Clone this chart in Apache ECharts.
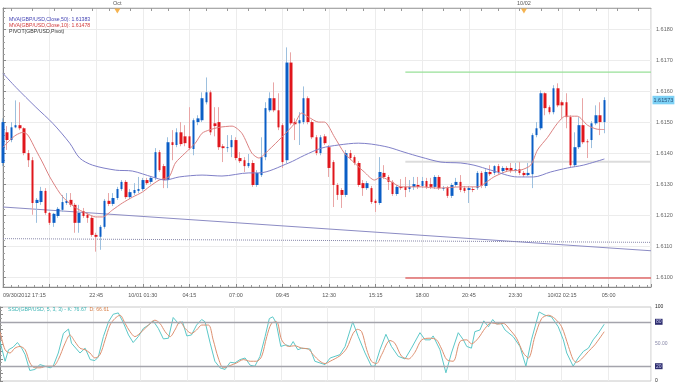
<!DOCTYPE html>
<html><head><meta charset="utf-8">
<script src="https://cdn.jsdelivr.net/npm/echarts@6/dist/echarts.min.js"></script>
<style>html,body{margin:0;padding:0;background:#fff}#c{width:680px;height:385px}</style>
</head><body><div id="c"></div>
<script>
// ---- data (15-minute candles, GBP/USD, starting 09/30/2012 17:15) ----
const openVals = [1.61370,1.61469,1.61444,1.61485,1.61492,1.61482,1.61402,1.61379,1.61241,1.61244,
1.61280,1.61209,1.61177,1.61199,1.61219,1.61241,1.61251,1.61235,1.61177,1.61215,
1.61203,1.61193,1.61138,1.61132,1.61164,1.61248,1.61238,1.61257,1.61286,1.61309,
1.61260,1.61273,1.61280,1.61286,1.61315,1.61309,1.61322,1.61405,1.61360,1.61315,
1.61437,1.61428,1.61469,1.61456,1.61456,1.61415,1.61502,1.61508,1.61566,1.61598,
1.61498,1.61502,1.61424,1.61418,1.61421,1.61444,1.61386,1.61379,1.61360,1.61370,
1.61299,1.61331,1.61389,1.61540,1.61579,1.61540,1.61492,1.61379,1.61694,1.61502,
1.61498,1.61502,1.61579,1.61502,1.61453,1.61402,1.61456,1.61421,1.61373,1.61299,
1.61283,1.61267,1.61402,1.61389,1.61370,1.61305,1.61289,1.61289,1.61248,1.61241,
1.61338,1.61325,1.61309,1.61270,1.61293,1.61293,1.61286,1.61293,1.61299,1.61296,
1.61312,1.61302,1.61293,1.61325,1.61286,1.61289,1.61264,1.61299,1.61309,1.61289,
1.61283,1.61286,1.61289,1.61338,1.61296,1.61341,1.61338,1.61360,1.61344,1.61354,
1.61354,1.61344,1.61350,1.61338,1.61331,1.61334,1.61460,1.61482,1.61595,1.61550,
1.61534,1.61611,1.61566,1.61566,1.61518,1.61363,1.61421,1.61492,1.61440,1.61444,
1.61498,1.61524,1.61502];
const closeVals = [1.61502,1.61444,1.61485,1.61492,1.61482,1.61402,1.61379,1.61241,1.61251,1.61280,
1.61209,1.61177,1.61206,1.61222,1.61244,1.61248,1.61235,1.61177,1.61209,1.61199,
1.61193,1.61138,1.61132,1.61164,1.61248,1.61238,1.61257,1.61286,1.61309,1.61260,
1.61276,1.61283,1.61286,1.61315,1.61305,1.61322,1.61405,1.61347,1.61315,1.61437,
1.61428,1.61469,1.61431,1.61434,1.61418,1.61508,1.61514,1.61579,1.61598,1.61469,
1.61489,1.61421,1.61418,1.61421,1.61444,1.61386,1.61376,1.61360,1.61370,1.61299,
1.61338,1.61389,1.61547,1.61579,1.61540,1.61485,1.61373,1.61694,1.61498,1.61495,
1.61508,1.61579,1.61502,1.61453,1.61402,1.61453,1.61434,1.61354,1.61299,1.61267,
1.61267,1.61402,1.61386,1.61370,1.61299,1.61289,1.61305,1.61244,1.61241,1.61341,
1.61325,1.61309,1.61270,1.61293,1.61289,1.61283,1.61293,1.61302,1.61293,1.61312,
1.61293,1.61293,1.61325,1.61289,1.61289,1.61264,1.61299,1.61309,1.61283,1.61280,
1.61289,1.61283,1.61338,1.61296,1.61341,1.61334,1.61360,1.61341,1.61354,1.61347,
1.61344,1.61350,1.61338,1.61331,1.61338,1.61460,1.61482,1.61595,1.61547,1.61534,
1.61611,1.61556,1.61556,1.61518,1.61363,1.61421,1.61492,1.61437,1.61437,1.61498,
1.61524,1.61502,1.61573];
const lowVals = [1.61360,1.61412,1.61437,1.61482,1.61476,1.61395,1.61357,1.61203,1.61177,1.61235,
1.61203,1.61170,1.61164,1.61193,1.61212,1.61235,1.61228,1.61145,1.61145,1.61193,
1.61177,1.61132,1.61084,1.61090,1.61158,1.61231,1.61231,1.61251,1.61280,1.61254,
1.61254,1.61267,1.61273,1.61280,1.61299,1.61302,1.61315,1.61341,1.61289,1.61289,
1.61379,1.61421,1.61424,1.61424,1.61412,1.61395,1.61492,1.61502,1.61559,1.61460,
1.61456,1.61412,1.61373,1.61405,1.61389,1.61379,1.61370,1.61341,1.61354,1.61293,
1.61293,1.61325,1.61379,1.61534,1.61534,1.61476,1.61354,1.61370,1.61492,1.61444,
1.61428,1.61495,1.61495,1.61447,1.61395,1.61395,1.61428,1.61325,1.61228,1.61251,
1.61225,1.61260,1.61379,1.61363,1.61293,1.61264,1.61283,1.61238,1.61212,1.61235,
1.61318,1.61283,1.61264,1.61264,1.61283,1.61260,1.61276,1.61283,1.61286,1.61289,
1.61286,1.61286,1.61286,1.61283,1.61280,1.61257,1.61257,1.61293,1.61276,1.61273,
1.61241,1.61276,1.61283,1.61289,1.61289,1.61328,1.61331,1.61334,1.61338,1.61341,
1.61338,1.61338,1.61331,1.61325,1.61328,1.61289,1.61453,1.61476,1.61524,1.61527,
1.61527,1.61550,1.61514,1.61482,1.61357,1.61357,1.61415,1.61431,1.61386,1.61418,
1.61492,1.61460,1.61466];
const highVals = [1.61514,1.61489,1.61502,1.61572,1.61566,1.61485,1.61412,1.61389,1.61257,1.61293,
1.61289,1.61212,1.61209,1.61228,1.61267,1.61273,1.61273,1.61241,1.61235,1.61225,
1.61209,1.61199,1.61145,1.61170,1.61254,1.61273,1.61273,1.61293,1.61315,1.61315,
1.61286,1.61305,1.61325,1.61322,1.61322,1.61328,1.61418,1.61412,1.61367,1.61453,
1.61476,1.61482,1.61502,1.61492,1.61550,1.61514,1.61524,1.61598,1.61646,1.61604,
1.61550,1.61550,1.61431,1.61460,1.61460,1.61453,1.61405,1.61389,1.61399,1.61379,
1.61347,1.61453,1.61566,1.61598,1.61630,1.61595,1.61498,1.61743,1.61727,1.61514,
1.61534,1.61617,1.61585,1.61508,1.61460,1.61460,1.61463,1.61428,1.61379,1.61305,
1.61289,1.61412,1.61412,1.61395,1.61376,1.61315,1.61312,1.61296,1.61254,1.61389,
1.61363,1.61331,1.61315,1.61299,1.61318,1.61325,1.61315,1.61325,1.61325,1.61325,
1.61322,1.61322,1.61331,1.61331,1.61296,1.61296,1.61305,1.61322,1.61331,1.61296,
1.61296,1.61293,1.61344,1.61344,1.61350,1.61363,1.61363,1.61367,1.61360,1.61360,
1.61370,1.61370,1.61373,1.61344,1.61370,1.61466,1.61502,1.61604,1.61598,1.61556,
1.61621,1.61627,1.61572,1.61595,1.61524,1.61469,1.61518,1.61579,1.61447,1.61505,
1.61556,1.61566,1.61582];

// moving averages: [slot, price]
const ma50Pts = [[0,1.61659],[3.06,1.61614],[7.76,1.61550],[11.75,1.61498],[15.75,1.61434],[18.1,1.61386],
[21.15,1.61363],[26.6,1.61347],[30.55,1.61344],[35.25,1.61325],[38.3,1.61315],[41.6,1.61325],[47.0,1.61331],
[51.7,1.61328],[58.05,1.61338],[60.4,1.61338],[67.45,1.61370],[71.2,1.61395],[75.2,1.61418],[79.2,1.61428],
[83.9,1.61434],[86.95,1.61431],[90.95,1.61421],[94.7,1.61405],[98.7,1.61389],[103.4,1.61373],[108.1,1.61370],
[111.2,1.61363],[115.2,1.61347],[121.5,1.61325],[125.3,1.61325],[129.3,1.61341],[133.3,1.61354],[137.0,1.61363],
[142,1.61383]];
const ma10Pts = [[0,1.61421],[1.65,1.61444],[3.06,1.61460],[4.7,1.61469],[5.88,1.61460],[7.76,1.61412],[9.4,1.61370],
[11.05,1.61325],[13.4,1.61273],[14.8,1.61251],[17.2,1.61225],[19.5,1.61209],[21.9,1.61196],[23.5,1.61196],
[25.9,1.61219],[28.2,1.61241],[30.6,1.61260],[32.9,1.61276],[34.5,1.61293],[36.9,1.61315],[39.2,1.61325],
[40.7,1.61370],[43.0,1.61402],[45.4,1.61434],[47.0,1.61466],[48.6,1.61476],[51.0,1.61485],[54.1,1.61489],
[56.4,1.61466],[58.75,1.61402],[60.4,1.61386],[62.75,1.61412],[65.8,1.61453],[68.9,1.61498],[70.5,1.61531],
[72.15,1.61518],[74.5,1.61502],[75.9,1.61502],[78.3,1.61453],[80.6,1.61402],[83.0,1.61370],[85.3,1.61341],
[87.7,1.61315],[89.3,1.61325],[91.7,1.61309],[94.0,1.61293],[98.7,1.61293],[102.7,1.61289],[108.1,1.61293],
[112.1,1.61293],[113.5,1.61302],[115.9,1.61325],[119.2,1.61344],[122.2,1.61347],[124.6,1.61363],[126.2,1.61412],
[128.6,1.61453],[130.9,1.61498],[132.8,1.61521],[135.6,1.61521],[138.0,1.61492],[140.3,1.61479],[142,1.61478]];
const trendPts = [[0,1.61228],[153,1.61087]];
const dottedPts = [[0,1.61126],[153,1.61114]];
const pivotFrom = 95, pivotTo = 153;
const pivotR1 = 1.61663, pivotPP = 1.61374, pivotS1 = 1.60999;

// stochastic %K / %D: [slot, value]
const kPts = [[0,53.3],[1.2,26.7],[2.0,42.2],[3.1,45.8],[4.1,52.0],[5.1,44.4],[5.9,35.6],[7.0,14.2],[8.2,15.6],[9.4,22.2],
[10.6,20.0],[11.8,17.8],[12.5,20.0],[13.7,37.8],[14.9,64.4],[16.1,70.2],[16.8,51.1],[18.8,37.8],[20.0,44.4],[21.2,28.9],
[22.3,27.6],[23.1,32.4],[24.3,60.0],[25.5,80.0],[26.6,90.2],[27.8,92.0],[29.0,78.7],[30.2,62.2],[31.3,52.0],[32.5,60.0],
[33.7,71.1],[34.9,75.6],[36.0,81.3],[37.2,71.1],[38.4,56.9],[39.6,57.8],[40.7,85.8],[41.9,77.8],[42.9,80.0],[43.9,60.9],
[45.0,62.2],[46.2,75.6],[47.4,83.1],[48.2,80.0],[49.4,51.1],[50.5,26.7],[51.7,17.8],[52.9,15.6],[54.1,25.3],[55.2,24.4],
[56.4,28.9],[57.6,31.1],[58.8,21.3],[59.9,20.0],[61.1,33.3],[62.3,60.0],[63.3,84.4],[64.1,86.7],[64.9,78.7],[66.0,46.7],
[67.2,48.9],[68.2,46.7],[68.9,53.3],[70.0,42.2],[70.9,44.4],[72.9,43.1],[74.0,26.7],[75.2,24.4],[76.4,22.2],[77.6,31.1],
[79.9,35.6],[81.1,46.7],[82.9,80.0],[84.2,60.0],[85.8,37.8],[87.3,20.0],[88.1,20.0],[89.3,42.2],[90.7,63.1],[92.0,46.7],
[93.6,33.3],[95.2,29.8],[96.7,44.4],[98.7,65.3],[99.9,55.6],[101.1,55.6],[101.8,60.9],[103.4,42.2],[104.8,11.1],[106.1,37.8],
[107.7,65.3],[108.9,55.6],[109.7,46.7],[110.8,44.4],[111.6,66.7],[112.8,68.9],[113.7,81.3],[114.8,73.3],[115.8,83.1],[116.7,76.9],
[117.7,78.7],[118.7,68.9],[120.6,60.0],[122.2,46.7],[123.6,20.0],[124.9,55.6],[126.7,93.3],[128.1,88.9],[129.6,86.7],[131.2,73.3],
[132.4,55.6],[133.2,37.8],[134.7,20.0],[135.9,31.1],[137.1,40.0],[138.3,44.4],[139.4,55.6],[140.6,64.4],[142,76.67]];
const dPts = [[0,66.7],[1.2,42.2],[2.35,37.8],[3.5,44.4],[4.7,46.7],[5.9,42.2],[7.05,24.4],[8.2,17.8],[9.4,17.8],[11.0,20.0],
[12.5,20.0],[13.7,28.9],[15.3,51.1],[16.45,62.2],[17.6,53.3],[18.8,44.4],[20.0,42.2],[21.15,37.8],[22.3,31.1],[23.5,35.6],
[24.7,55.6],[25.85,75.6],[27.0,84.4],[28.2,88.9],[29.4,77.8],[30.55,66.7],[31.7,60.0],[33.3,66.7],[34.9,75.6],[36.4,82.2],
[37.6,77.8],[38.8,66.7],[40.0,60.0],[41.1,68.9],[42.3,80.0],[43.5,71.1],[45.0,64.4],[46.2,68.9],[47.4,75.6],[49.0,75.6],
[50.1,55.6],[51.3,31.1],[52.5,17.8],[54.1,20.9],[55.6,24.4],[57.2,28.9],[58.8,26.7],[60.3,26.7],[61.5,33.3],[62.7,60.0],
[63.8,77.8],[65.0,80.0],[66.2,55.6],[67.8,46.7],[69.3,47.6],[70.9,44.4],[72.5,43.1],[73.6,35.6],[75.2,26.7],[76.4,23.6],
[77.6,26.7],[79.9,34.2],[81.5,44.4],[83.0,64.4],[84.0,69.8],[85.0,66.7],[86.2,42.2],[87.3,26.7],[88.5,23.6],[89.7,35.6],
[91.65,54.7],[92.8,51.1],[94.4,33.3],[96.0,29.8],[97.5,38.7],[99.1,55.6],[101.1,57.8],[102.6,55.6],[103.8,43.1],[105.0,28.9],
[106.5,26.7],[108.1,53.3],[109.7,55.6],[110.8,50.2],[112.4,57.8],[114.0,71.1],[115.5,78.7],[117.1,76.9],[118.3,77.8],[119.9,68.9],
[121.4,57.8],[123.0,37.8],[124.2,31.1],[125.7,60.0],[127.3,84.4],[128.9,88.9],[130.4,84.4],[132.0,73.3],[133.6,46.7],[134.7,28.9],
[135.5,25.3],[136.7,29.8],[138.3,40.0],[139.8,48.9],[142,66.61]];

// axis labels
const xTickLabels = ['09/30/2012 17:15','','22:45','10/01 01:30','04:15','07:00','09:45','12:30','15:15','18:00','20:45','23:30','10/02 02:15','05:00'];
const topMarks = [[27,'Oct'],[123,'10/02']];
const stochLevels = {100:'100', 80:'80', 50:'50.00', 20:'20', 0:'0'};

// ---- chart ----
const FONT = 'Liberation Sans';
const yMin = 1.6097, yMax = 1.6187, slotMax = 153;
const slots = Array.from({length: slotMax + 1}, (_, i) => String(i));
const candleData = openVals.map((o, i) => [i, o, closeVals[i], lowVals[i], highVals[i]]);
const bodyData = openVals.map((o, i) => [i, o, closeVals[i], Math.min(o, closeVals[i]), Math.max(o, closeVals[i])]);
const lastClose = closeVals[closeVals.length - 1];
const ma50Last = ma50Pts[ma50Pts.length - 1][1], ma10Last = ma10Pts[ma10Pts.length - 1][1];
const kLast = kPts[kPts.length - 1][1], dLast = dPts[dPts.length - 1][1];
const topIdx = topMarks.map(m => m[0]);

const chart = echarts.init(document.getElementById('c'), null, {renderer: 'canvas'});
chart.setOption({
  animation: false,
  backgroundColor: '#fff',
  textStyle: {fontFamily: FONT},
  title: [{
    left: 4, top: 12,
    text: '{a|MVA(GBP/USD,Close,50): ' + ma50Last.toFixed(5) + '}\n{b|MVA(GBP/USD,Close,10): ' + ma10Last.toFixed(5) + '}\n{c|PIVOT(GBP/USD,Pivot)}',
    textStyle: {fontSize: 5.2, fontWeight: 'normal', rich: {
      a: {color: '#4444b4', fontSize: 5.2, lineHeight: 5.8, fontFamily: FONT},
      b: {color: '#d23a3a', fontSize: 5.2, lineHeight: 5.8, fontFamily: FONT},
      c: {color: '#333', fontSize: 5.2, lineHeight: 5.8, fontFamily: FONT}
    }}
  }, {
    left: 3, top: 302,
    text: '{k|SSD(GBP/USD, 5, 3, 3) - K: ' + kLast.toFixed(2) + '}  {d|D: ' + dLast.toFixed(2) + '}',
    textStyle: {fontSize: 5.2, fontWeight: 'normal', rich: {
      k: {color: '#3cb4b4', fontSize: 5.2, fontFamily: FONT},
      d: {color: '#d8804a', fontSize: 5.2, fontFamily: FONT}
    }}
  }],
  grid: [
    {left: 0, right: 29, top: 8, height: 279, show: true, borderColor: '#c8c8c8', borderWidth: 1},
    {left: 0, right: 29, top: 307, height: 74, show: true, borderColor: '#c8c8c8', borderWidth: 1}
  ],
  xAxis: [{
    type: 'value', gridIndex: 0, min: 0, max: slotMax, interval: 11,
    axisLine: {lineStyle: {color: '#8a8a8a'}},
    axisTick: {show: true, inside: true, length: 3, lineStyle: {color: '#8a8a8a'}},
    minorTick: {show: true, splitNumber: 6, length: 2, lineStyle: {color: '#9a9a9a'}},
    splitLine: {show: true, lineStyle: {color: '#ececec'}},
    axisLabel: {fontSize: 5.5, color: '#555', margin: 5, alignMinLabel: 'left', showMaxLabel: false,
      formatter: v => { const k = v / 11; return Number.isInteger(k) && xTickLabels[k] ? xTickLabels[k] : ''; }}
  }, {
    type: 'category', gridIndex: 0, position: 'top', data: slots, boundaryGap: false,
    axisLine: {lineStyle: {color: '#aaa'}},
    axisTick: {show: true, inside: true, length: 3, lineStyle: {color: '#999'},
      interval: idx => { const k = Math.round((idx - 2.35) / 4.6); return Math.abs(2.35 + 4.6 * k - idx) < 0.5; }},
    splitLine: {show: false},
    axisLabel: {fontSize: 5.5, color: '#555', margin: 2, interval: idx => topIdx.includes(idx),
      formatter: (val, idx) => { const m = topMarks.find(t => t[0] === idx); return m ? m[1] : ''; }}
  }, {
    type: 'value', gridIndex: 1, min: 0, max: slotMax, interval: 11,
    axisLine: {show: false}, axisTick: {show: false}, axisLabel: {show: false},
    splitLine: {show: true, lineStyle: {color: '#ececec'}}
  }],
  yAxis: [{
    type: 'value', gridIndex: 0, position: 'right', min: yMin, max: yMax, splitNumber: 9,
    minInterval: 0.001, maxInterval: 0.001, scale: true,
    axisLine: {show: true, lineStyle: {color: '#8a8a8a'}},
    axisTick: {show: true, length: 3, lineStyle: {color: '#8a8a8a'}},
    minorTick: {show: true, splitNumber: 5, length: 2, lineStyle: {color: '#a0a0a0'}},
    splitLine: {show: true, lineStyle: {color: '#ececec'}},
    axisLabel: {fontSize: 5.5, color: '#666', margin: 5,
      formatter: v => { const r = Math.round(v * 1000) / 1000; return Math.abs(r - v) < 1e-7 ? r.toFixed(4) : ''; }}
  }, {
    type: 'value', gridIndex: 1, position: 'right', min: 0, max: 100, interval: 10,
    axisLine: {show: true, lineStyle: {color: '#8a8a8a'}},
    axisTick: {show: true, length: 3, lineStyle: {color: '#8a8a8a'}},
    minorTick: {show: true, splitNumber: 2, length: 2, lineStyle: {color: '#a0a0a0'}},
    splitLine: {show: false},
    axisLabel: {fontSize: 5, color: '#8888a8', margin: 4,
      formatter: v => { const s = stochLevels[v]; if (s === undefined) return ''; return (v === 80 || v === 20) ? '{box|' + s + '}' : (v === 50 ? s : '{dark|' + s + '}'); },
      rich: {
        box: {backgroundColor: '#2e2e6e', color: '#c8c8f0', fontSize: 5, padding: [0.5, 1], fontFamily: FONT},
        dark: {color: '#222', fontSize: 5, fontFamily: FONT}
      }}
  }],
  series: [
    {type: 'line', name: 'trend', xAxisIndex: 0, yAxisIndex: 0, data: trendPts, symbol: 'none',
      lineStyle: {color: '#8c8cc4', width: 1.1}, silent: true, z: 2},
    {type: 'line', name: 'dotted', xAxisIndex: 0, yAxisIndex: 0, data: dottedPts, symbol: 'none',
      lineStyle: {color: '#8888aa', width: 1, type: 'dotted'}, silent: true, z: 2},
    {type: 'line', name: 'R1', xAxisIndex: 0, yAxisIndex: 0, data: [[pivotFrom, pivotR1], [pivotTo, pivotR1]], symbol: 'none',
      lineStyle: {color: '#98e098', width: 1.4}, silent: true, z: 2},
    {type: 'line', name: 'PP', xAxisIndex: 0, yAxisIndex: 0, data: [[pivotFrom, pivotPP], [pivotTo, pivotPP]], symbol: 'none',
      lineStyle: {color: '#dcdcdc', width: 2}, silent: true, z: 2},
    {type: 'line', name: 'S1', xAxisIndex: 0, yAxisIndex: 0, data: [[pivotFrom, pivotS1], [pivotTo, pivotS1]], symbol: 'none',
      lineStyle: {color: '#e06a6a', width: 1.4}, silent: true, z: 2},
    {type: 'candlestick', name: 'wick', xAxisIndex: 0, yAxisIndex: 0, data: candleData, barWidth: 1,
      itemStyle: {color: '#9dc0de', color0: '#e9a6a6', borderColor: '#9dc0de', borderColor0: '#e9a6a6', borderWidth: 1},
      silent: true, z: 3},
    {type: 'candlestick', name: 'body', xAxisIndex: 0, yAxisIndex: 0, data: bodyData, barWidth: 3,
      itemStyle: {color: '#0b5ec6', color0: '#e0161c', borderColor: '#0b5ec6', borderColor0: '#e0161c', borderWidth: 0},
      silent: true, z: 4},
    {type: 'line', name: 'MA10', xAxisIndex: 0, yAxisIndex: 0, data: ma10Pts, symbol: 'none', smooth: 0.25,
      lineStyle: {color: '#dc8282', width: 1}, silent: true, z: 5},
    {type: 'line', name: 'MA50', xAxisIndex: 0, yAxisIndex: 0, data: ma50Pts, symbol: 'none', smooth: 0.3,
      lineStyle: {color: '#8080c8', width: 1}, silent: true, z: 5},
    {type: 'scatter', name: 'lastPrice', xAxisIndex: 0, yAxisIndex: 0, data: [[slotMax, lastClose]],
      symbol: 'rect', symbolSize: [1, 1], clip: false, itemStyle: {color: 'rgba(0,0,0,0)'}, silent: true, z: 20,
      label: {show: true, position: 'right', distance: 1, formatter: lastClose.toFixed(5), backgroundColor: '#5cc6f2',
        color: '#0e2c58', fontSize: 5.5, padding: [1.5, 1, 1, 1], fontFamily: FONT}},
    {type: 'scatter', name: 'marks', xAxisIndex: 0, yAxisIndex: 0, data: topIdx.map(i => [i, yMax]),
      symbol: 'triangle', symbolRotate: 180, symbolSize: [6, 5], symbolOffset: [0, 3], clip: false,
      itemStyle: {color: '#f2a024'}, silent: true, z: 10},
    {type: 'line', name: 'K', xAxisIndex: 2, yAxisIndex: 1, data: kPts, symbol: 'none',
      lineStyle: {color: '#5cc8c8', width: 1}, silent: true, z: 4,
      markLine: {symbol: 'none', silent: true, label: {show: false}, data: [{yAxis: 80}, {yAxis: 20}],
        lineStyle: {color: '#a4a4ac', width: 1.3, type: 'solid'}}},
    {type: 'line', name: 'D', xAxisIndex: 2, yAxisIndex: 1, data: dPts, symbol: 'none', smooth: 0.3,
      lineStyle: {color: '#dd9070', width: 1}, silent: true, z: 4}
  ]
});
</script></body></html>
